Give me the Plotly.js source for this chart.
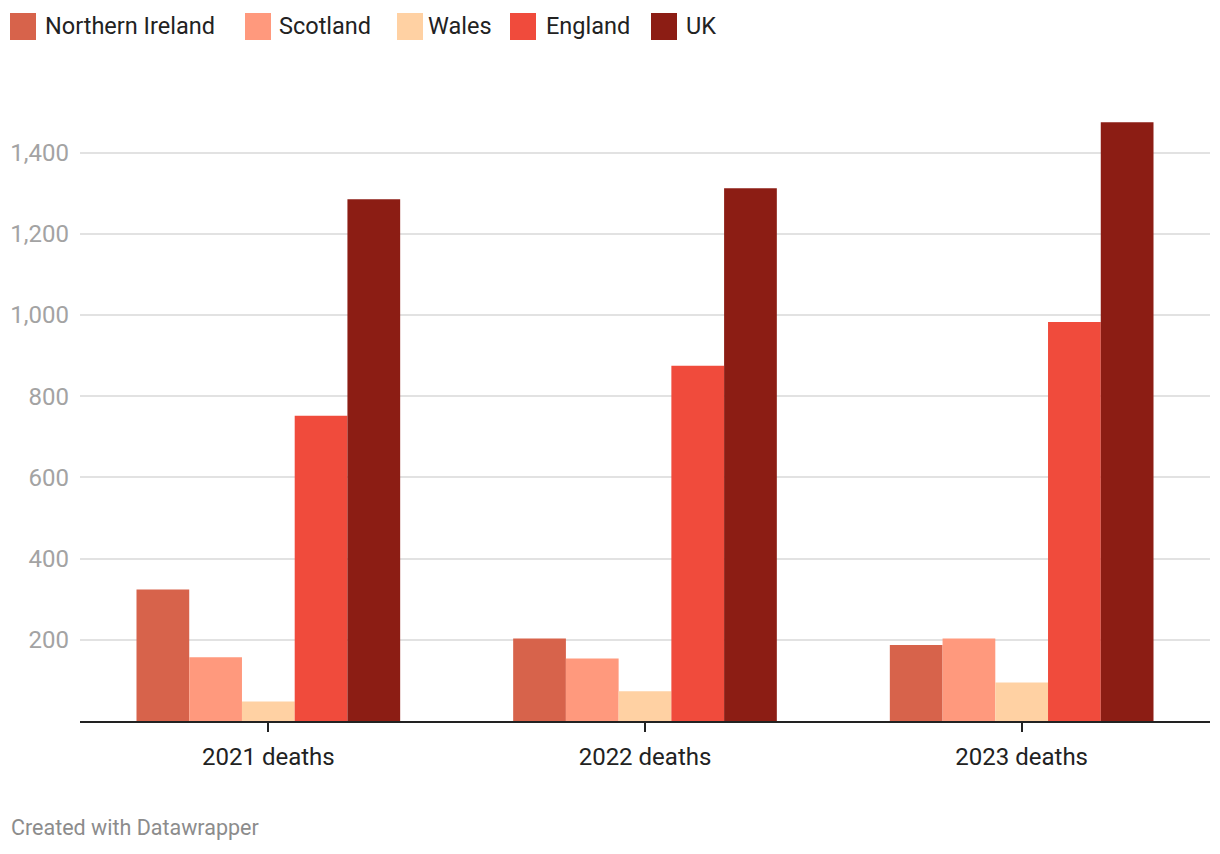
<!DOCTYPE html>
<html>
<head>
<meta charset="utf-8">
<script src="https://cdn.plot.ly/plotly-3.0.1.min.js"></script>
<style>
  html, body { margin: 0; padding: 0; background: #fff; }
  #chart { width: 1220px; height: 854px; }
</style>
</head>
<body>
<div id="chart"></div>
<script>
// ---- data ----
const categories = ["2021 deaths", "2022 deaths", "2023 deaths"];
const seriesNames = ["Northern Ireland", "Scotland", "Wales", "England", "UK"];
const northernIreland = [324, 203, 187];
const scotland = [157, 154, 203];
const wales = [48, 73, 95];
const england = [752, 875, 983];
const uk = [1285, 1312, 1475];
const yTickVals = [200, 400, 600, 800, 1000, 1200, 1400];
const yTickText = ["200", "400", "600", "800", "1,000", "1,200", "1,400"];

const seriesValues = [northernIreland, scotland, wales, england, uk];
const colors = ["#d7634b", "#ff997d", "#ffd1a3", "#f04b3c", "#8c1d14"];

const W = 1220, H = 854;
const mL = 80, mR = 10, mT = 112, mB = 133;
const plotW = W - mL - mR, plotH = H - mT - mB;

const traces = seriesNames.map((name, i) => ({
  type: "bar",
  name: name,
  x: categories,
  y: seriesValues[i],
  marker: { color: colors[i], line: { width: 0 } },
  hoverinfo: "x+y+name"
}));

// custom legend (pixel positions converted to paper coords)
const swatchLeft = [10, 245, 397, 510, 651];
const textLeft = [44, 278, 427, 545, 685];
const px = v => (v - mL) / plotW;
const py = v => (H - mB - v) / plotH;
const shapes = [];
const annotations = [];
seriesNames.forEach((name, i) => {
  shapes.push({
    type: "rect", xref: "paper", yref: "paper",
    x0: px(swatchLeft[i]), x1: px(swatchLeft[i] + 26),
    y0: py(40), y1: py(13),
    fillcolor: colors[i], line: { width: 0 }
  });
  annotations.push({
    xref: "paper", yref: "paper",
    x: px(textLeft[i] - 1), y: py(26.5),
    xanchor: "left", yanchor: "middle",
    text: name, showarrow: false,
    font: { family: "Roboto, sans-serif", size: 23.5, color: "#222" }
  });
});
annotations.push({
  xref: "paper", yref: "paper",
  x: px(9), y: py(828),
  xanchor: "left", yanchor: "middle",
  text: "Created with Datawrapper", showarrow: false,
  font: { family: "Roboto, sans-serif", size: 21.5, color: "#8c8c8c" }
});

const layout = {
  width: W, height: H,
  margin: { l: mL, r: mR, t: mT, b: mB, pad: 0 },
  paper_bgcolor: "#fff", plot_bgcolor: "#fff",
  showlegend: false,
  barmode: "group",
  bargap: 0.3,
  bargroupgap: 0,
  font: { family: "Roboto, sans-serif" },
  xaxis: {
    type: "category",
    showline: true, linecolor: "#222", linewidth: 2,
    ticks: "outside", tickcolor: "#222", ticklen: 9, tickwidth: 2,
    showgrid: false, zeroline: false,
    tickfont: { family: "Roboto, sans-serif", size: 24, color: "#222" },
    ticklabelstandoff: 4,
    fixedrange: true
  },
  yaxis: {
    range: [0, 1500],
    tickvals: yTickVals, ticktext: yTickText,
    showgrid: true, gridcolor: "#e2e2e2", gridwidth: 2,
    zeroline: false, showline: false, ticks: "",
    tickfont: { family: "Roboto, sans-serif", size: 24, color: "#a3a3a3" },
    ticklabelstandoff: 10,
    fixedrange: true
  },
  shapes: shapes,
  annotations: annotations
};

Plotly.newPlot("chart", traces, layout, { displayModeBar: false, staticPlot: true });
</script>
</body>
</html>
